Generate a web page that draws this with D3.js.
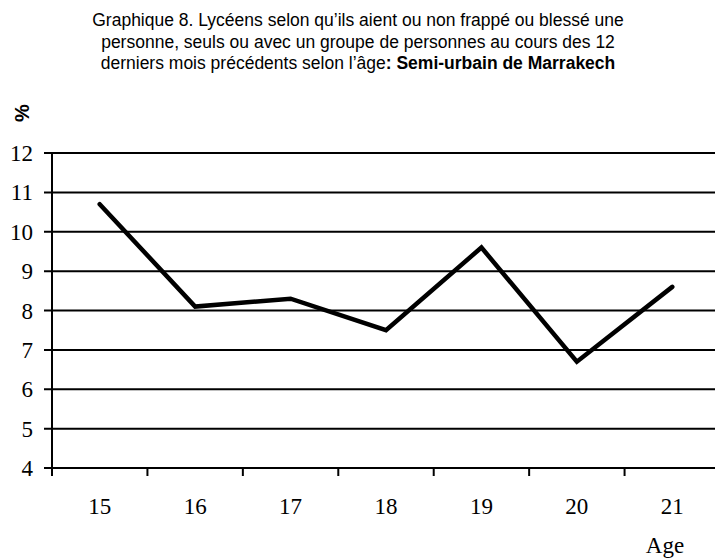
<!DOCTYPE html>
<html>
<head>
<meta charset="utf-8">
<script src="https://cdn.jsdelivr.net/npm/d3@7"></script>
<style>
  body { margin: 0; background: #fff; }
  svg { display: block; }
</style>
</head>
<body>
<svg id="chart" width="715" height="559"></svg>
<script>
// data
const ages = ["15", "16", "17", "18", "19", "20", "21"];
const values = [10.7, 8.1, 8.3, 7.5, 9.6, 6.7, 8.6];
const yTicks = [4, 5, 6, 7, 8, 9, 10, 11, 12];
const titleLines = [
    "Graphique 8. Lycéens selon qu’ils aient ou non frappé ou blessé une",
    "personne, seuls ou avec un groupe de personnes au cours des 12"
];
const titleLast = "derniers mois précédents selon l’âge";
const titleBold = ": Semi-urbain de Marrakech";

const svg = d3.select("#chart");
// plot area (window.top is reserved, so different names)
const plotLeft = 52, plotRight = 720, plotTop = 153, plotBottom = 468;

const x = d3.scaleBand().domain(ages).range([plotLeft, plotRight]);
const y = d3.scaleLinear().domain([4, 12]).range([plotBottom, plotTop]);

// title
const title = svg.append("g")
    .attr("font-family", "Arial, 'Liberation Sans', sans-serif")
    .attr("font-size", 17.5)
    .attr("fill", "#000")
    .attr("text-anchor", "middle");
titleLines.forEach((t, i) => {
    title.append("text").attr("x", 358).attr("y", 26 + i * 21.5).text(t);
});
const last = title.append("text").attr("x", 358).attr("y", 69);
last.append("tspan").text(titleLast);
last.append("tspan").attr("font-weight", "bold").text(titleBold);

// gridlines
svg.append("g")
    .selectAll("line")
    .data(yTicks)
    .join("line")
    .attr("x1", plotLeft - 8)
    .attr("x2", plotRight)
    .attr("y1", d => y(d))
    .attr("y2", d => y(d))
    .attr("stroke", "#000")
    .attr("stroke-width", 2);

// y axis line
svg.append("line")
    .attr("x1", plotLeft).attr("x2", plotLeft)
    .attr("y1", plotTop).attr("y2", plotBottom + 8)
    .attr("stroke", "#000").attr("stroke-width", 2);

// x ticks between categories
svg.append("g")
    .selectAll("line")
    .data(ages.slice(1))
    .join("line")
    .attr("x1", d => x(d))
    .attr("x2", d => x(d))
    .attr("y1", plotBottom)
    .attr("y2", plotBottom + 8)
    .attr("stroke", "#000")
    .attr("stroke-width", 2);

// y tick labels
svg.append("g")
    .selectAll("text")
    .data(yTicks)
    .join("text")
    .attr("x", 33)
    .attr("y", d => y(d) + 8)
    .attr("text-anchor", "end")
    .attr("font-family", "'Liberation Serif', 'Times New Roman', serif")
    .attr("font-size", 23)
    .text(d => d);

// x tick labels
svg.append("g")
    .selectAll("text")
    .data(ages)
    .join("text")
    .attr("x", d => x(d) + x.bandwidth() / 2)
    .attr("y", 514)
    .attr("text-anchor", "middle")
    .attr("font-family", "'Liberation Serif', 'Times New Roman', serif")
    .attr("font-size", 23)
    .text(d => d);

// axis titles
svg.append("text")
    .attr("transform", "translate(29,113) rotate(-90)")
    .attr("text-anchor", "middle")
    .attr("font-family", "Arial, 'Liberation Sans', sans-serif")
    .attr("font-weight", "bold")
    .attr("font-size", 20)
    .text("%");

svg.append("text")
    .attr("x", 665)
    .attr("y", 553)
    .attr("text-anchor", "middle")
    .attr("font-family", "'Liberation Serif', 'Times New Roman', serif")
    .attr("font-size", 23)
    .text("Age");

// data line
const line = d3.line()
    .x((d, i) => x(ages[i]) + x.bandwidth() / 2)
    .y(d => y(d));

svg.append("path")
    .datum(values)
    .attr("d", line)
    .attr("fill", "none")
    .attr("stroke", "#000")
    .attr("stroke-width", 4.5)
    .attr("stroke-linecap", "round")
    .attr("stroke-linejoin", "miter");
</script>
</body>
</html>
